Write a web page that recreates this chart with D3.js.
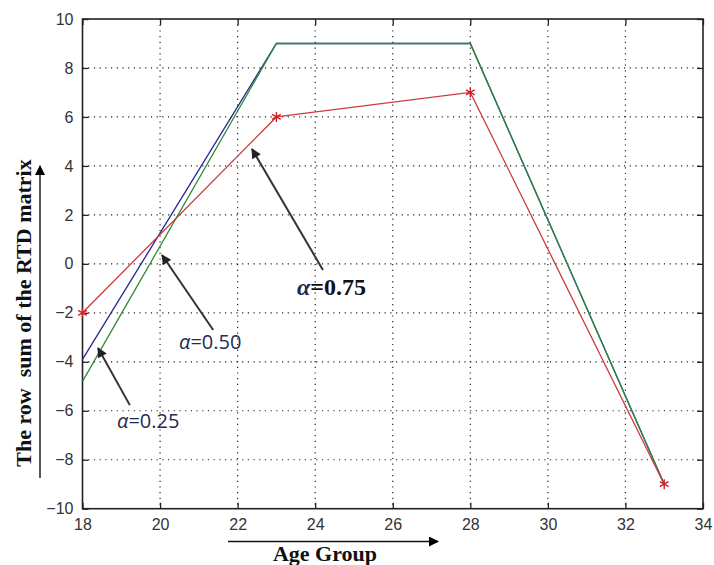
<!DOCTYPE html>
<html><head><meta charset="utf-8">
<script src="https://cdn.jsdelivr.net/npm/d3@7"></script>
<style>body{margin:0;background:#fff;} svg{display:block;}</style>
</head><body>
<svg id="c" width="714" height="565"></svg>
<script>
const ages = [18, 23, 28, 33];
const alpha025 = [-3.9, 9, 9, -9];   // blue
const alpha050 = [-4.8, 9, 9, -9];   // green
const alpha075 = [-2, 6, 7, -9];     // red with stars
const xTicks = [18,20,22,24,26,28,30,32,34];
const yTicks = [-10,-8,-6,-4,-2,0,2,4,6,8,10];
const annotations = [
  {label:"0.75", tail:[24.2, -0.25], head:[22.37, 4.69]},
  {label:"0.50", tail:[21.37, -2.7], head:[20.05, 0.36]},
  {label:"0.25", tail:[19.22, -5.77], head:[18.4, -3.44]}
];

const svg = d3.select("#c");
const L=82.5, R=703, T=19, B=508.7;
const x = d3.scaleLinear().domain([18,34]).range([L,R]);
const y = d3.scaleLinear().domain([-10,10]).range([B,T]);

// grid
const g = svg.append("g");
g.selectAll(".gx").data(xTicks.slice(1,-1)).enter().append("line")
  .attr("x1",d=>x(d)).attr("x2",d=>x(d)).attr("y1",T).attr("y2",B)
  .attr("stroke","#222").attr("stroke-width",1.2).attr("stroke-dasharray","1.2,4.5");
g.selectAll(".gy").data(yTicks.slice(1,-1)).enter().append("line")
  .attr("y1",d=>y(d)).attr("y2",d=>y(d)).attr("x1",L).attr("x2",R)
  .attr("stroke","#222").attr("stroke-width",1.2).attr("stroke-dasharray","1.2,4.5");

// axes (MATLAB style inward ticks)
const xb = d3.axisBottom(x).tickValues(xTicks).tickSize(-6).tickPadding(10).tickFormat(d3.format("d"));
const xt = d3.axisTop(x).tickValues(xTicks).tickSize(-6).tickFormat("");
const yl = d3.axisLeft(y).tickValues(yTicks).tickSize(-6).tickPadding(9).tickFormat(d3.format("d"));
const yr = d3.axisRight(y).tickValues(yTicks).tickSize(-6).tickFormat("");
function style(sel){
  sel.select(".domain").remove();
  sel.selectAll("line").attr("stroke","#222").attr("stroke-width",1.3);
  sel.selectAll("text").attr("fill","#333").attr("font-size",16).attr("font-family","'Liberation Sans', Arial, sans-serif");
}
svg.append("g").attr("transform",`translate(0,${B})`).call(xb).call(style);
svg.append("g").attr("transform",`translate(0,${T})`).call(xt).call(style);
svg.append("g").attr("transform",`translate(${L},0)`).call(yl).call(style);
svg.append("g").attr("transform",`translate(${R},0)`).call(yr).call(style);
svg.append("rect").attr("x",L).attr("y",T).attr("width",R-L).attr("height",B-T)
  .attr("fill","none").attr("stroke","#222").attr("stroke-width",1.6);

// lines
const line = d3.line().x(d=>x(d[0])).y(d=>y(d[1]));
const series = [
  {v:alpha025, c:"#24288f"},
  {v:alpha050, c:"#2f8a3a"},
  {v:alpha075, c:"#cc3a3a"}
];
series.forEach(s=>{
  svg.append("path").datum(ages.map((a,i)=>[a,s.v[i]])).attr("d",line)
    .attr("fill","none").attr("stroke",s.c).attr("stroke-width",1.3);
});
const star = d3.symbol().type(d3.symbolAsterisk).size(70);
svg.selectAll(".st").data(ages.map((a,i)=>[a,alpha075[i]])).enter().append("path")
  .attr("d",star).attr("transform",d=>`translate(${x(d[0])},${y(d[1])})`)
  .attr("fill","none").attr("stroke","#d0202a").attr("stroke-width",1.4);

// annotation arrows
const defs = svg.append("defs");
defs.append("marker").attr("id","ah").attr("viewBox","0 0 10 10").attr("refX",9).attr("refY",5)
  .attr("markerWidth",13).attr("markerHeight",10).attr("markerUnits","userSpaceOnUse").attr("orient","auto")
  .append("path").attr("d","M0,0 L10,5 L0,10 Z").attr("fill","#222");
defs.append("marker").attr("id","ah2").attr("viewBox","0 0 10 10").attr("refX",9).attr("refY",5)
  .attr("markerWidth",15).attr("markerHeight",10).attr("markerUnits","userSpaceOnUse").attr("orient","auto")
  .append("path").attr("d","M0,0 L10,5 L0,10 Z").attr("fill","#000");
annotations.forEach(a=>{
  svg.append("line").attr("x1",x(a.tail[0])).attr("y1",y(a.tail[1]))
    .attr("x2",x(a.head[0])).attr("y2",y(a.head[1]))
    .attr("stroke","#333").attr("stroke-width",2).attr("marker-end","url(#ah)");
});
// labels
const t75 = svg.append("text").attr("x",297).attr("y",295).attr("font-family","'Liberation Serif', 'Times New Roman', serif")
  .attr("font-size",24).attr("font-weight","bold").attr("fill","#111");
t75.append("tspan").attr("font-style","italic").attr("fill","#1c2a55").text("α");
t75.append("tspan").text("=" + annotations[0].label);
const t50 = svg.append("text").attr("x",179).attr("y",349).attr("font-family","'Open Sans', 'Noto Sans', sans-serif")
  .attr("font-size",20).attr("fill","#1f2b52");
t50.append("tspan").attr("font-style","italic").text("α");
t50.append("tspan").text("=" + annotations[1].label);
const t25 = svg.append("text").attr("x",117).attr("y",428).attr("font-family","'Open Sans', 'Noto Sans', sans-serif")
  .attr("font-size",20).attr("fill","#1f2b52");
t25.append("tspan").attr("font-style","italic").text("α");
t25.append("tspan").text("=" + annotations[2].label);

// axis titles with arrows
svg.append("text").attr("transform","translate(31,313) rotate(-90)").attr("text-anchor","middle")
  .attr("font-family","'Liberation Serif', 'Times New Roman', serif").attr("font-size",22).attr("font-weight","bold")
  .attr("fill","#111").attr("xml:space","preserve").text("The row  sum of the RTD matrix");
svg.append("line").attr("x1",40).attr("y1",478).attr("x2",40).attr("y2",166)
  .attr("stroke","#111").attr("stroke-width",1.4).attr("marker-end","url(#ah2)");
svg.append("text").attr("x",325).attr("y",561).attr("text-anchor","middle")
  .attr("font-family","'Liberation Serif', 'Times New Roman', serif").attr("font-size",22).attr("font-weight","bold")
  .attr("fill","#111").text("Age Group");
svg.append("line").attr("x1",228).attr("y1",541.5).attr("x2",438).attr("y2",541.5)
  .attr("stroke","#111").attr("stroke-width",1.4).attr("marker-end","url(#ah2)");
</script>
</body></html>
